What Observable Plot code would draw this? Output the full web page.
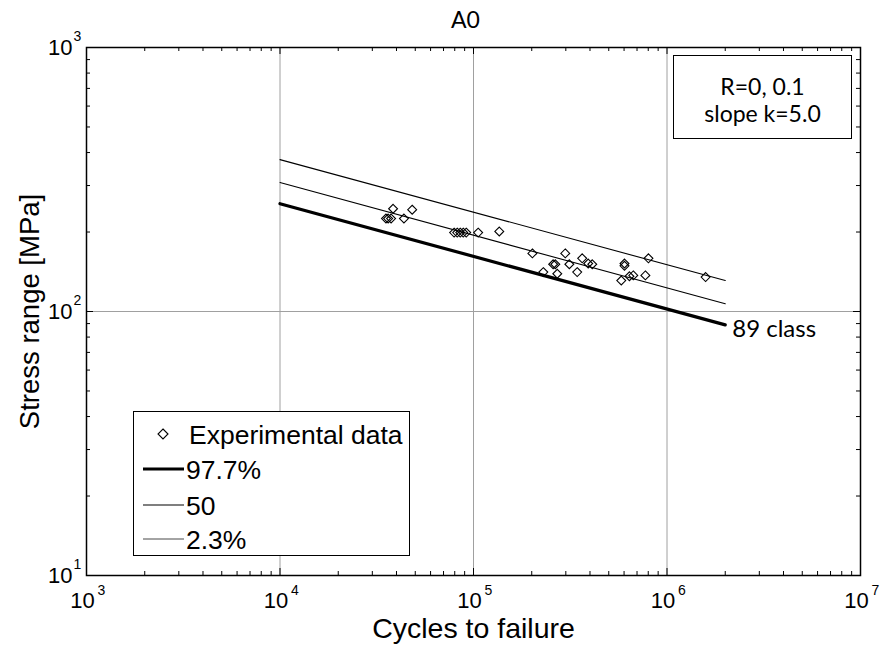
<!DOCTYPE html>
<html><head><meta charset="utf-8">
<script src="https://cdn.jsdelivr.net/npm/d3@7"></script>
<script src="https://cdn.jsdelivr.net/npm/@observablehq/plot@0.6"></script>
<style>
body{margin:0;background:#fff;}
#wrap{position:relative;width:882px;height:649px;overflow:hidden;}
.box{position:absolute;background:#fff;border:1.2px solid #000;box-sizing:border-box;}
</style></head><body><div id="wrap"></div>
<script>
const cycles = [38400, 48200, 36200, 37500, 35300, 43700, 79400, 82400, 85400, 88500, 91700, 105700, 135900,
  201500, 298000, 364500, 391600, 410900, 258000, 264700, 312800, 229500, 271000, 343500,
  603000, 603000, 801900, 669400, 639500, 580300, 773100, 1583000];
const stress = [245, 243, 225, 225, 225, 225, 199, 199, 199, 199, 199, 199, 201,
  166, 166, 159, 152, 151, 151, 151, 151, 141, 139, 141,
  152, 149, 159, 137, 136, 131, 137, 135];
// S-N lines: endpoints at N = 1e4 and N = 2e6
const lineN = [1e4, 2e6];
const line977 = [256, 89];
const line50 = [308, 107];
const line23 = [376, 131];
const legendLabels = ["Experimental data", "97.7%", "50", "2.3%"];
const xTicks = [1e3, 1e4, 1e5, 1e6, 1e7];
const yTicks = [1e1, 1e2, 1e3];
const xGrid = [1e4, 1e5, 1e6];
const yGrid = [1e2];
const xMinor = [];
for (const d of [1e3, 1e4, 1e5, 1e6]) for (let m = 2; m <= 9; m++) xMinor.push(m * d);
const yMinor = [];
for (const d of [1e1, 1e2]) for (let m = 2; m <= 9; m++) yMinor.push(m * d);

const W = 882, H = 649, mL = 86, mR = 22, mT = 47, mB = 74;
const iw = W - mL - mR, ih = H - mT - mB;
const points = cycles.map((n, i) => ({n, s: stress[i]}));
const mk = arr => lineN.map((n, i) => ({n, s: arr[i]}));
const arial = "'Liberation Sans', Arial, sans-serif";
const cal = "Lato, Carlito, Calibri, sans-serif";

const chart = Plot.plot({
  width: W, height: H,
  marginLeft: mL, marginRight: mR, marginTop: mT, marginBottom: mB,
  x: {type: "log", domain: [1e3, 1e7], axis: null},
  y: {type: "log", domain: [1e1, 1e3], axis: null},
  style: {fontFamily: arial, background: "#fff", overflow: "visible", color: "#000"},
  marks: [
    Plot.ruleX(xGrid, {x: d => d, stroke: "#a0a0a0", strokeWidth: 1}),
    Plot.ruleY(yGrid, {y: d => d, stroke: "#a0a0a0", strokeWidth: 1}),
    // minor ticks, inward, all four sides
    Plot.ruleX(xMinor, {x: d => d, insetTop: ih - 4, stroke: "#000"}),
    Plot.ruleX(xMinor, {x: d => d, insetBottom: ih - 4, stroke: "#000"}),
    Plot.ruleY(yMinor, {y: d => d, insetRight: iw - 4, stroke: "#000"}),
    Plot.ruleY(yMinor, {y: d => d, insetLeft: iw - 4, stroke: "#000"}),
    // major ticks
    Plot.ruleX(xTicks, {x: d => d, insetTop: ih - 7, stroke: "#000"}),
    Plot.ruleX(xTicks, {x: d => d, insetBottom: ih - 7, stroke: "#000"}),
    Plot.ruleY(yTicks, {y: d => d, insetRight: iw - 7, stroke: "#000"}),
    Plot.ruleY(yTicks, {y: d => d, insetLeft: iw - 7, stroke: "#000"}),
    // S-N lines
    Plot.line(mk(line977), {x: "n", y: "s", stroke: "#000", strokeWidth: 3.2}),
    Plot.line(mk(line50), {x: "n", y: "s", stroke: "#000", strokeWidth: 1.1}),
    Plot.line(mk(line23), {x: "n", y: "s", stroke: "#000", strokeWidth: 1.1}),
    Plot.dot(points, {x: "n", y: "s", symbol: "diamond2", r: 4, stroke: "#000", strokeWidth: 1.1, fill: "none"}),
    Plot.text([{n: lineN[1], s: line977[1]}], {x: "n", y: "s", text: () => "89 class", textAnchor: "start",
      lineAnchor: "middle", dx: 7, dy: 4, fontFamily: cal, fontSize: 24, fill: "#000"}),
    Plot.frame({stroke: "#000", strokeWidth: 1.5}),
    // tick labels
    Plot.text(xTicks, {x: d => d, frameAnchor: "bottom", text: () => "10", textAnchor: "middle", lineAnchor: "middle",
      dx: -4, dy: 25, fontSize: 22, fill: "#000"}),
    Plot.text(xTicks, {x: d => d, frameAnchor: "bottom", text: d => String(Math.round(Math.log10(d))), textAnchor: "middle",
      lineAnchor: "middle", dx: 15, dy: 15, fontSize: 14, fill: "#000"}),
    Plot.text(yTicks, {y: d => d, frameAnchor: "left", text: () => "10", textAnchor: "end", lineAnchor: "middle",
      dx: -14, dy: 0, fontSize: 22, fill: "#000"}),
    Plot.text(yTicks, {y: d => d, frameAnchor: "left", text: d => String(Math.round(Math.log10(d))), textAnchor: "start",
      lineAnchor: "middle", dx: -13, dy: -11, fontSize: 14, fill: "#000"}),
    // axis labels and title
    Plot.text(["Cycles to failure"], {frameAnchor: "bottom", text: d => d, textAnchor: "middle", lineAnchor: "middle",
      dy: 53, fontSize: 28.5, fill: "#000"}),
    Plot.text(["Stress range [MPa]"], {frameAnchor: "left", text: d => d, textAnchor: "middle", lineAnchor: "middle",
      rotate: -90, dx: -56, fontSize: 27.5, fill: "#000"}),
    Plot.text(["A0"], {frameAnchor: "top", text: d => d, textAnchor: "middle", lineAnchor: "middle",
      dx: -8, dy: -27, fontFamily: cal, fontSize: 23, fill: "#000"})
  ]
});
const wrap = document.getElementById("wrap");
wrap.appendChild(chart);

// Legend box
const leg = document.createElement("div");
leg.className = "box";
Object.assign(leg.style, {left: "133px", top: "411px", width: "277px", height: "145px"});
const rows = [22, 57, 93, 127];
let svg = `<svg width="277" height="145" style="position:absolute;left:0;top:0;font-family:${arial}">`;
svg += `<path d="M29,${rows[0]-5}L34,${rows[0]}L29,${rows[0]+5}L24,${rows[0]}Z" fill="none" stroke="#000" stroke-width="1.1"/>`;
svg += `<line x1="9" x2="50" y1="${rows[1]}" y2="${rows[1]}" stroke="#000" stroke-width="3.2"/>`;
svg += `<line x1="9" x2="50" y1="${rows[2]}" y2="${rows[2]}" stroke="#000" stroke-width="1.1"/>`;
svg += `<line x1="9" x2="50" y1="${rows[3]}" y2="${rows[3]}" stroke="#333" stroke-width="0.9"/>`;
legendLabels.forEach((t, i) => {
  svg += `<text x="${i === 0 ? 55 : 52}" y="${rows[i] + 9.5}" font-size="26.5" fill="#000">${t}</text>`;
});
svg += `</svg>`;
leg.innerHTML = svg;
wrap.appendChild(leg);

// Annotation box
const ann = document.createElement("div");
ann.className = "box";
Object.assign(ann.style, {left: "673px", top: "55px", width: "179px", height: "84px",
  fontFamily: cal, fontSize: "23px", textAlign: "center", lineHeight: "27px", paddingTop: "17px"});
ann.innerHTML = "R=0, 0.1<br>slope k=5.0";
wrap.appendChild(ann);
</script></body></html>
